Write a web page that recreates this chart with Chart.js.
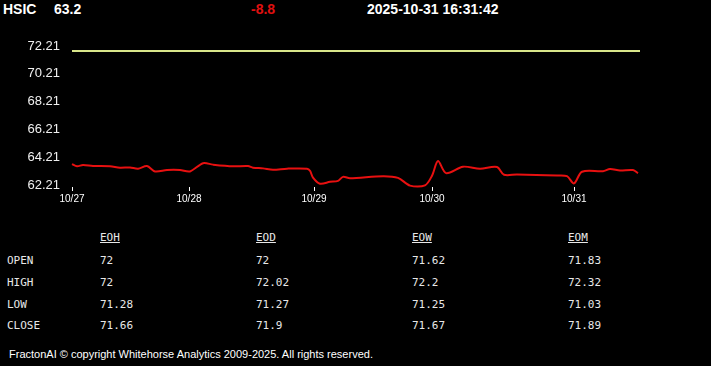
<!DOCTYPE html>
<html>
<head>
<meta charset="utf-8">
<script src="https://cdn.jsdelivr.net/npm/chart.js@4"></script>
<style>
  body { margin: 0; background: #000; width: 711px; height: 366px; overflow: hidden; position: relative; font-family: "Liberation Sans", Arial, sans-serif; color: #fff; }
  .hdr { position: absolute; top: 1px; font-weight: bold; font-size: 14px; }
  #wrap { position: absolute; left: 0; top: 0; width: 711px; height: 215px; }
  table { position: absolute; left: 0; top: 228px; width: 718px; table-layout: fixed; border-collapse: collapse; font-family: "DejaVu Sans Mono", monospace; font-size: 11px; color: #e8e8e8; }
  td, th { padding: 0; }
  td { height: 21.7px; }
  th { text-align: left; font-weight: normal; text-decoration: underline; height: 22px; vertical-align: top; padding-top: 3px; box-sizing: border-box; }
  .foot { position: absolute; left: 9px; top: 348px; font-size: 11px; color: #fff; }
</style>
</head>
<body>
<div class="hdr" style="left:3px">HSIC</div>
<div class="hdr" style="left:54px">63.2</div>
<div class="hdr" style="left:251px;color:#e01010">-8.8</div>
<div class="hdr" style="left:367px">2025-10-31 16:31:42</div>
<div id="wrap"><canvas id="c"></canvas></div>
<table id="tbl"><colgroup><col style="width:100px"><col style="width:156px"><col style="width:156px"><col style="width:156px"><col style="width:150px"></colgroup></table>
<div class="foot">FractonAI © copyright Whitehorse Analytics 2009-2025. All rights reserved.</div>
<script>
// slot index along the time axis and close price at that slot
var slots = [0, 5, 11, 21, 38, 48, 58, 66, 75, 83, 95, 108, 118, 131, 141, 161, 176, 181, 191, 201, 215, 235, 238, 241, 248, 258, 266, 271, 278, 311, 326, 338, 353, 360, 366, 374, 391, 408, 425, 432, 445, 485, 495, 502, 510, 531, 538, 548, 561, 566];
var prices = [63.86, 63.70, 63.79, 63.72, 63.70, 63.60, 63.62, 63.53, 63.72, 63.33, 63.43, 63.43, 63.33, 63.92, 63.82, 63.70, 63.72, 63.60, 63.55, 63.45, 63.53, 63.53, 63.38, 62.89, 62.45, 62.58, 62.65, 62.94, 62.84, 62.99, 62.87, 62.31, 62.33, 63.02, 64.08, 63.21, 63.67, 63.53, 63.65, 63.09, 63.11, 63.04, 62.99, 62.47, 63.31, 63.35, 63.50, 63.40, 63.43, 63.20];
var refLevel = 72;
var slotMax = 568;
var dayTicks = [0, 117, 242, 360, 502];
var dayLabels = ['10/27', '10/28', '10/29', '10/30', '10/31'];
var yTicks = [62.21, 64.21, 66.21, 68.21, 70.21, 72.21];

var cols = ['EOH', 'EOD', 'EOW', 'EOM'];
var rows = ['OPEN', 'HIGH', 'LOW', 'CLOSE'];
var open = ['72', '72', '71.62', '71.83'];
var high = ['72', '72.02', '72.2', '72.32'];
var low = ['71.28', '71.27', '71.25', '71.03'];
var close = ['71.66', '71.9', '71.67', '71.89'];

var tbl = document.getElementById('tbl');
var html = '<tr><th></th>' + cols.map(function (c) { return '<th>' + c + '</th>'; }).join('') + '</tr>';
[open, high, low, close].forEach(function (r, i) {
    html += '<tr><td style="padding-left:7px">' + rows[i] + '</td>' + r.map(function (v) { return '<td>' + v + '</td>'; }).join('') + '</tr>';
});
tbl.insertAdjacentHTML('beforeend', html);

var ctx = document.getElementById('c').getContext('2d');
var chart = new Chart(ctx, {
    type: 'line',
    data: {
        datasets: [{
            data: [{x: 0, y: refLevel}, {x: slotMax, y: refLevel}],
            borderColor: '#d9e68a',
            borderWidth: 2,
            pointRadius: 0
        }, {
            data: slots.map(function (s, i) { return {x: s, y: prices[i]}; }),
            borderColor: '#e81010',
            borderWidth: 2,
            pointRadius: 0,
            tension: 0.3
        }]
    },
    options: {
        responsive: true,
        maintainAspectRatio: false,
        animation: false,
        clip: false,
        layout: { padding: { left: 0, right: 71, top: 48, bottom: 8 } },
        plugins: { legend: { display: false }, tooltip: { enabled: false } },
        scales: {
            x: {
                type: 'linear',
                min: 0,
                max: slotMax,
                afterBuildTicks: function (scale) {
                    scale.ticks = dayTicks.map(function (v) { return {value: v}; });
                },
                ticks: {
                    autoSkip: false,
                    maxRotation: 0,
                    color: '#fff',
                    padding: 2,
                    font: { family: 'Liberation Sans', size: 10 },
                    callback: function (v) { return dayLabels[dayTicks.indexOf(v)]; }
                },
                grid: { drawOnChartArea: false, drawTicks: true, tickLength: 4, color: '#fff', tickWidth: 1 },
                border: { display: false }
            },
            y: {
                min: 62.21,
                max: 72.21,
                afterBuildTicks: function (scale) {
                    scale.ticks = yTicks.map(function (v) { return {value: v}; });
                },
                afterFit: function (scale) { scale.width = 72; },
                ticks: {
                    color: '#f0f0f0',
                    padding: 12,
                    labelOffset: -2,
                    font: { family: 'Liberation Sans', size: 13 },
                    callback: function (v) { return v.toFixed(2); }
                },
                grid: { display: false, drawTicks: false },
                border: { display: false }
            }
        }
    }
});
</script>
</body>
</html>
